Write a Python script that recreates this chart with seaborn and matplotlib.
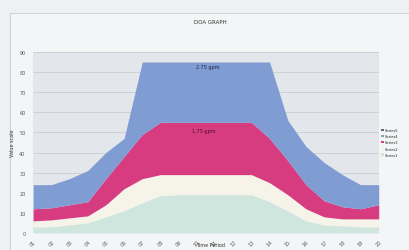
import pandas as pd
import seaborn as sns
import matplotlib.pyplot as plt
from matplotlib.patches import Rectangle

sns.set_style('whitegrid')
plt.rcParams['font.family'] = ['DejaVu Sans']

# category labels along the x axis
periods = [f"{i:02d}" for i in range(1, 21)]

# values of each stacked series
series1 = [3, 3, 4, 5, 8, 11, 15, 18.5, 19, 19, 19, 19, 19, 15.5, 11, 6, 4, 3.5, 3, 3]
series2 = [3, 3.5, 3.5, 3.5, 6, 11, 12, 10.5, 10, 10, 10, 10, 10, 9.5, 8, 6, 4, 3.5, 4, 4]
series3 = [6, 6, 6.5, 7, 13, 16, 22, 26, 26, 26, 26, 26, 26, 22, 17, 12, 8, 6, 5, 7]
series4 = [12, 11.5, 13, 15.5, 13, 9, 36, 30, 30, 30, 30, 30, 30, 38, 20, 19, 19, 16, 12, 10]
series5 = [0] * 20
names = ['Series1', 'Series2', 'Series3', 'Series4', 'Series5']
colors = ['#cfe6df', '#f6f4e8', '#d83c80', '#7f9cd3', '#5a6478']

df = pd.DataFrame({'period': periods, 'Series1': series1, 'Series2': series2,
                   'Series3': series3, 'Series4': series4, 'Series5': series5})

fig = plt.figure(figsize=(4.09, 2.51), dpi=100)
fig.patch.set_facecolor('#eef0f1')
fig.patches.append(Rectangle((0.025, 0.0), 0.975, 0.945, transform=fig.transFigure,
                             facecolor='#f4f5f6', edgecolor='#c8cacc', lw=0.6, zorder=-1))

ax = fig.add_axes([0.081, 0.068, 0.845, 0.721])
ax.set_facecolor('#e3e6ea')

x = list(range(len(periods)))
ax.stackplot(x, [df[n] for n in names], colors=colors, labels=names, lw=0)

ax.set_xlim(0, len(periods) - 1)
ax.set_ylim(0, 90)
ax.set_yticks(range(0, 91, 10))
ax.set_xticks(x)
ax.set_xticklabels(df['period'], rotation=45, fontsize=3.5, color='#555555')
ax.tick_params(axis='y', labelsize=3.5, colors='#555555', pad=2)
ax.tick_params(axis='x', pad=1)
ax.grid(axis='y', color='#c4c8cc', lw=0.5)
ax.grid(axis='x', visible=False)
ax.set_axisbelow(True)
for s in ax.spines.values():
    s.set_visible(False)

ax.set_ylabel('Value scale', fontsize=3.5, color='#333333', labelpad=3)
fig.text(0.515, 0.022, 'Time Period', fontsize=3.5, ha='center', va='center', color='#333333')
fig.text(0.515, 0.905, 'DOA GRAPH', fontsize=4, ha='center', color='#333333')

ax.text(9.6, 82, '2.75 gpm', fontsize=3.5, ha='center', color='#222244')
ax.text(9.4, 50, '1.75 gpm', fontsize=3.5, ha='center', color='#441122')

handles, labels = ax.get_legend_handles_labels()
ax.legend(handles[::-1], labels[::-1], loc='center left', bbox_to_anchor=(1.0, 0.5),
          fontsize=2.6, frameon=False, handlelength=0.7, handleheight=0.6,
          handletextpad=0.4, labelspacing=0.6, borderaxespad=0.3)

plt.savefig('out.png', dpi=100)
